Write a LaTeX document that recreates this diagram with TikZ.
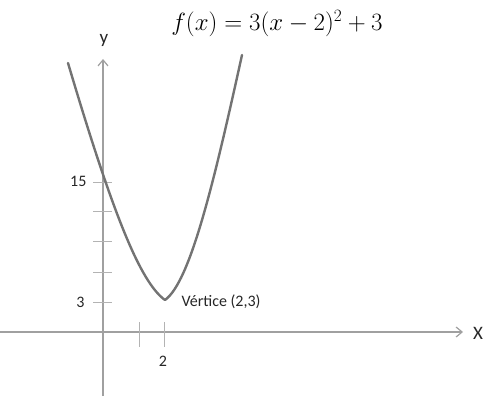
\documentclass[tikz,border=0pt]{standalone}
\usepackage{fontspec}
\setmainfont{Carlito}
\usetikzlibrary{arrows.meta}
\definecolor{axisgray}{RGB}{160,160,160}
\definecolor{curvegray}{RGB}{115,115,115}
\tikzset{
  axisline/.style={draw=axisgray, line width=1.6pt, -{Straight Barb[length=6pt,width=10pt,line width=1.2pt]}},
  tickline/.style={draw=axisgray!80, line width=1pt},
  curveline/.style={draw=curvegray, line width=2.4pt, line cap=round, line join=round},
  lbl/.style={font=\fontsize{16}{18}\selectfont, text=black!85},
  axlbl/.style={font=\fontsize{19}{22}\selectfont, text=black!85}
}
\begin{document}
\begin{tikzpicture}[x=1pt,y=-1pt]
\useasboundingbox (0,0) rectangle (484,396);
% axes
\coordinate (xs) at (0,332);
\coordinate (xe) at (463,332);
\coordinate (ys) at (103,396);
\coordinate (ye) at (103,59);
\draw[axisline] (xs) -- (xe);
\draw[axisline] (ys) -- (ye);
% y ticks
\foreach \yy in {182,211,241,272,302}{
  \draw[tickline] (93,\yy) -- (112,\yy);
}
% x ticks
\foreach \xx in {139,164}{
  \draw[tickline] (\xx,322) -- (\xx,347);
}
% curve
\coordinate (cl) at (68,63);
\coordinate (vtx) at (165,300);
\coordinate (cr) at (242,55);
\draw[curveline] (cl) .. controls (112.5,213) and (140,282) .. (vtx)
  .. controls (190,282) and (213.4,185) .. (cr);
% labels
\node[axlbl] (ylab) at (104,40) {y};
\node[axlbl] (xlab) at (478,333) {X};
\node[lbl, anchor=east] (l15) at (90,181) {15};
\node[lbl, anchor=east] (l3) at (88,302) {3};
\node[lbl] (l2) at (163,361) {2};
\node[lbl, anchor=west] (vert) at (178,302) {Vértice (2,3)};
\node (formula) at (277,24) {\fontsize{25}{30}\selectfont $f(x) = 3(x-2)^2+3$};
\end{tikzpicture}
\end{document}
